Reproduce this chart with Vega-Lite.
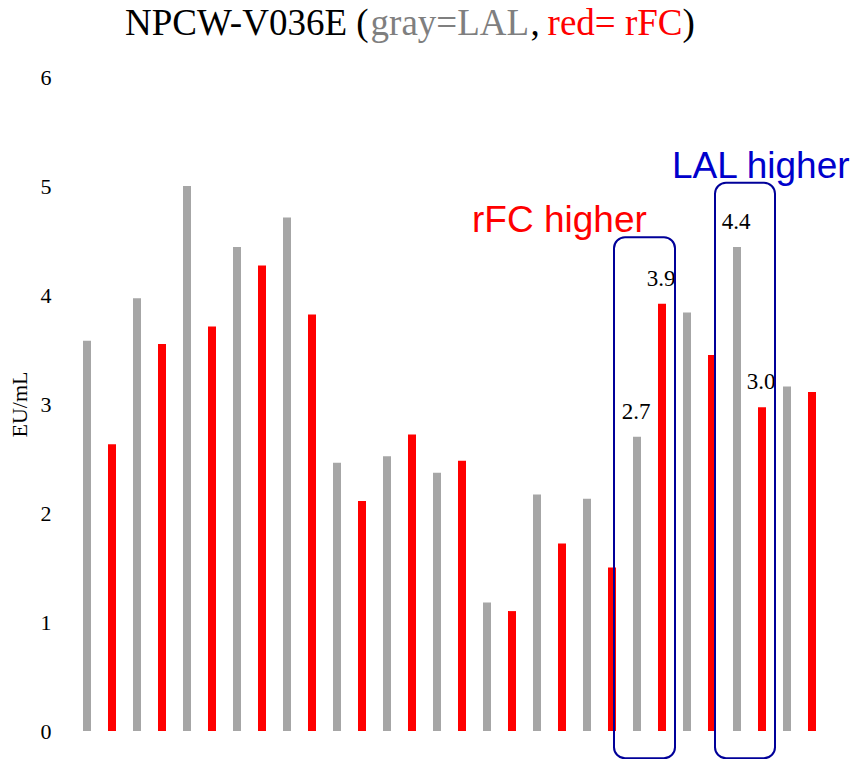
{
  "$schema": "https://vega.github.io/schema/vega-lite/v6.json",
  "width": 775,
  "height": 654,
  "autosize": {"type": "none"},
  "padding": {"left": 62, "top": 77, "right": 17, "bottom": 28},
  "config": {"view": {"stroke": null}},
  "datasets": {
    "bars": [
      {"i": 1, "series": "LAL", "value": 3.58},
      {"i": 2, "series": "rFC", "value": 2.63},
      {"i": 3, "series": "LAL", "value": 3.97},
      {"i": 4, "series": "rFC", "value": 3.55},
      {"i": 5, "series": "LAL", "value": 5.0},
      {"i": 6, "series": "rFC", "value": 3.71},
      {"i": 7, "series": "LAL", "value": 4.44},
      {"i": 8, "series": "rFC", "value": 4.27},
      {"i": 9, "series": "LAL", "value": 4.71},
      {"i": 10, "series": "rFC", "value": 3.82},
      {"i": 11, "series": "LAL", "value": 2.46},
      {"i": 12, "series": "rFC", "value": 2.11},
      {"i": 13, "series": "LAL", "value": 2.52},
      {"i": 14, "series": "rFC", "value": 2.72},
      {"i": 15, "series": "LAL", "value": 2.37},
      {"i": 16, "series": "rFC", "value": 2.48},
      {"i": 17, "series": "LAL", "value": 1.18},
      {"i": 18, "series": "rFC", "value": 1.1},
      {"i": 19, "series": "LAL", "value": 2.17},
      {"i": 20, "series": "rFC", "value": 1.72},
      {"i": 21, "series": "LAL", "value": 2.13},
      {"i": 22, "series": "rFC", "value": 1.5},
      {"i": 23, "series": "LAL", "value": 2.7},
      {"i": 24, "series": "rFC", "value": 3.92},
      {"i": 25, "series": "LAL", "value": 3.84},
      {"i": 26, "series": "rFC", "value": 3.45},
      {"i": 27, "series": "LAL", "value": 4.44},
      {"i": 28, "series": "rFC", "value": 2.97},
      {"i": 29, "series": "LAL", "value": 3.16},
      {"i": 30, "series": "rFC", "value": 3.11}
    ]
  },
  "layer": [
    {
      "data": {"name": "bars"},
      "mark": {"type": "bar", "size": 8},
      "encoding": {
        "x": {"field": "i", "type": "quantitative", "scale": {"domain": [0, 31], "nice": false, "zero": false, "padding": 0}, "axis": null},
        "y": {
          "field": "value", "type": "quantitative",
          "scale": {"domain": [0, 6], "nice": false},
          "axis": {
            "values": [0, 1, 2, 3, 4, 5, 6], "format": "d",
            "grid": false, "domain": false, "ticks": false,
            "labelFont": "Liberation Serif", "labelFontSize": 22, "labelColor": "#000000", "labelPadding": 11,
            "title": "EU/mL", "titleFont": "Liberation Serif", "titleFontSize": 22, "titleFontWeight": "normal", "titleColor": "#000000", "titlePadding": 9
          }
        },
        "color": {"field": "series", "type": "nominal", "scale": {"domain": ["LAL", "rFC"], "range": ["#a6a6a6", "#ff0000"]}, "legend": null}
      }
    },
    {
      "data": {"name": "bars"},
      "transform": [{"filter": {"field": "i", "oneOf": [23, 24, 27, 28]}}],
      "mark": {"type": "text", "font": "Liberation Serif", "fontSize": 23, "color": "#000000", "baseline": "alphabetic", "dy": -18, "dx": -1},
      "encoding": {
        "x": {"field": "i", "type": "quantitative"},
        "y": {"field": "value", "type": "quantitative"},
        "text": {"field": "value", "type": "quantitative", "format": ".1f"}
      }
    },
    {
      "data": {"values": [{"box": "rFC higher"}]},
      "mark": {"type": "rect", "fill": null, "filled": false, "stroke": "#000099", "strokeWidth": 2, "cornerRadius": 11, "clip": false},
      "encoding": {
        "x": {"datum": 22.08, "type": "quantitative"},
        "x2": {"datum": 24.52},
        "y": {"datum": 4.53, "type": "quantitative"},
        "y2": {"datum": -0.25}
      }
    },
    {
      "data": {"values": [{"box": "LAL higher"}]},
      "mark": {"type": "rect", "fill": null, "filled": false, "stroke": "#000099", "strokeWidth": 2, "cornerRadius": 11, "clip": false},
      "encoding": {
        "x": {"datum": 26.12, "type": "quantitative"},
        "x2": {"datum": 28.52},
        "y": {"datum": 5.03, "type": "quantitative"},
        "y2": {"datum": -0.25}
      }
    },
    {
      "data": {"values": [{"t": "rFC higher"}]},
      "mark": {"type": "text", "font": "Liberation Sans", "fontSize": 37, "color": "#ff0000", "align": "left", "baseline": "alphabetic"},
      "encoding": {
        "x": {"datum": 16.4, "type": "quantitative"},
        "y": {"datum": 4.578, "type": "quantitative"},
        "text": {"field": "t"}
      }
    },
    {
      "data": {"values": [{"t": "LAL higher"}]},
      "mark": {"type": "text", "font": "Liberation Sans", "fontSize": 37, "color": "#0000cc", "align": "left", "baseline": "alphabetic"},
      "encoding": {
        "x": {"datum": 24.4, "type": "quantitative"},
        "y": {"datum": 5.073, "type": "quantitative"},
        "text": {"field": "t"}
      }
    },
    {
      "data": {"values": [{"t": "NPCW-V036E ("}]},
      "mark": {"type": "text", "font": "Liberation Serif", "fontSize": 37, "color": "#000000", "align": "left", "baseline": "alphabetic"},
      "encoding": {
        "x": {"datum": 2.52, "type": "quantitative"},
        "y": {"datum": 6.385, "type": "quantitative"},
        "text": {"field": "t"}
      }
    },
    {
      "data": {"values": [{"t": "gray=LAL"}]},
      "mark": {"type": "text", "font": "Liberation Serif", "fontSize": 37, "color": "#7f7f7f", "align": "left", "baseline": "alphabetic"},
      "encoding": {
        "x": {"datum": 12.344, "type": "quantitative"},
        "y": {"datum": 6.385, "type": "quantitative"},
        "text": {"field": "t"}
      }
    },
    {
      "data": {"values": [{"t": ","}]},
      "mark": {"type": "text", "font": "Liberation Serif", "fontSize": 37, "color": "#000000", "align": "left", "baseline": "alphabetic"},
      "encoding": {
        "x": {"datum": 18.74, "type": "quantitative"},
        "y": {"datum": 6.385, "type": "quantitative"},
        "text": {"field": "t"}
      }
    },
    {
      "data": {"values": [{"t": "red= rFC"}]},
      "mark": {"type": "text", "font": "Liberation Serif", "fontSize": 37, "color": "#ff0000", "align": "left", "baseline": "alphabetic"},
      "encoding": {
        "x": {"datum": 19.424, "type": "quantitative"},
        "y": {"datum": 6.385, "type": "quantitative"},
        "text": {"field": "t"}
      }
    },
    {
      "data": {"values": [{"t": ")"}]},
      "mark": {"type": "text", "font": "Liberation Serif", "fontSize": 37, "color": "#000000", "align": "left", "baseline": "alphabetic"},
      "encoding": {
        "x": {"datum": 24.824, "type": "quantitative"},
        "y": {"datum": 6.385, "type": "quantitative"},
        "text": {"field": "t"}
      }
    }
  ]
}
